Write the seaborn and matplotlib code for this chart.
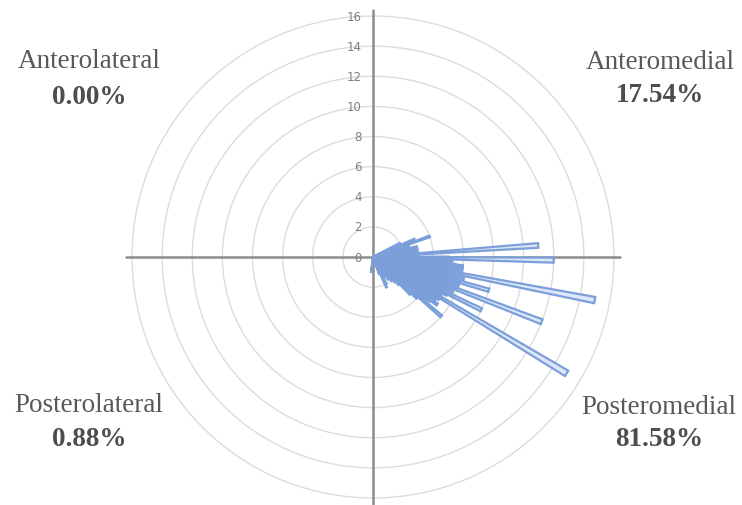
import numpy as np
import pandas as pd
import matplotlib
matplotlib.use("Agg")
import matplotlib.pyplot as plt
import seaborn as sns

# Data: one bar per case; direction (degrees, counter-clockwise from the medial/right axis) and magnitude
# Anteromedial cases (20)
am_angles = [4, 20, 23, 1, 2, 3, 5, 6, 7, 8, 9, 10, 11, 12, 13, 15, 17, 18, 24, 27]
am_values = [11, 4, 3, 3, 2.5, 3, 2.5, 3, 2, 2.5, 3, 2, 2.5, 2, 3, 2, 2.5, 2, 1.5, 2]
# Posteromedial cases (93)
pm_angles = [-1, -6, -11, -16, -21, -26, -31, -41,
             -0.5, -1.5, -2, -2.5, -3, -3.5, -4, -4.5, -5,
             -5.5, -6.5, -7, -7.5, -8, -8.5, -9, -9.5, -10,
             -10.5, -11.5, -12, -12.5, -13, -13.5, -14, -14.5, -15,
             -15.5, -16.5, -17, -17.5, -18, -18.5, -19, -19.5, -20,
             -20.5, -21.5, -22, -22.5, -23, -23.5, -24, -24.5, -25,
             -25.5, -26.5, -27, -27.5, -28, -28.5, -29, -29.5, -30,
             -30.5, -31.5, -32, -32.5, -33, -33.5, -34, -34.5, -35,
             -35.5, -36, -36.5, -37, -37.5, -38, -38.5, -39, -40,
             -42, -43, -44, -45, -47, -49, -52,
             -56, -60, -64, -66, -70, -0.8]
pm_values = [12, 6, 15, 8, 12, 8, 15, 6,
             5, 4.5, 5.3, 4, 5, 4.5, 5.2, 3.5, 4.8,
             5.5, 4, 5.8, 4.5, 6, 5, 5.5, 4, 5.8,
             4.5, 5, 6, 4.5, 5.5, 5, 6.2, 4, 5.5,
             6, 5, 5.8, 4.5, 6, 5, 5.5, 4, 5.8,
             5, 4.5, 5.5, 4, 5.8, 4.5, 5.2, 3.5, 5,
             4.8, 4, 5.5, 4.2, 5, 3.8, 5.2, 4, 4.8,
             4.5, 5, 4.2, 5.2, 4, 4.8, 3.8, 5, 4.5,
             5, 4.2, 5.3, 4, 4.8, 3.5, 4.5, 3.8, 4.2,
             3.5, 4, 3, 3.5, 2.5, 2.2, 2,
             1.8, 1.5, 2, 2.2, 1.2, 4.8]
# Posterolateral cases (1)
pl_angles = [-97]
pl_values = [1.0]

r_ticks = [0, 2, 4, 6, 8, 10, 12, 14, 16]
quad_names = ["Anterolateral", "Anteromedial", "Posterolateral", "Posteromedial"]
quad_pcts = ["0.00%", "17.54%", "0.88%", "81.58%"]

W, H = 742, 506
df = pd.DataFrame({
    "theta": np.deg2rad(am_angles + pm_angles + pl_angles),
    "value": am_values + pm_values + pl_values,
})

sns.set_style("white")
g = sns.FacetGrid(df, subplot_kws=dict(projection="polar"), height=H / 100,
                  aspect=W / H, despine=False)
g.map(plt.bar, "theta", "value", width=np.deg2rad(1.6), align="center",
      color="#dde7f7", edgecolor="#7b9fda", linewidth=1.6, zorder=3)
fig = g.figure
fig.set_size_inches(W / 100, H / 100)
ax = g.ax

cx, cy, R = 373, 258, 250
rmax = 16.6
ax.set_position([(cx - R) / W, (H - cy - R) / H, 2 * R / W, 2 * R / H])
ax.set_ylim(0, rmax)
ax.set_theta_zero_location("E")
ax.set_xticks([])
ax.set_yticks(r_ticks[1:])
ax.set_yticklabels([])
ax.set_xlabel("")
ax.set_ylabel("")
ax.set_title("")
ax.yaxis.grid(True, color="#dcdcdc", linewidth=1.0)
ax.xaxis.grid(False)
ax.spines["polar"].set_visible(False)
ax.set_facecolor("none")

# axis cross lines
for th in [0, np.pi / 2, np.pi, 3 * np.pi / 2]:
    ax.plot([th, th], [0, 16.4], color="#8c8c8c", linewidth=1.8, zorder=2)

# radial tick labels
for v in r_ticks:
    ax.annotate(str(v), xy=(np.pi / 2, v), xytext=(-8, 0), textcoords="offset points",
                ha="right", va="center", fontsize=8.5, color="#7f7f7f", zorder=4)

# quadrant labels
pos = [(89, 62, 97), (660, 63, 96), (89, 406, 440), (659, 408, 440)]
for (x, y1, y2), name, pct in zip(pos, quad_names, quad_pcts):
    fig.text(x / W, 1 - y1 / H, name, ha="center", va="center", fontsize=19.5,
             family="Liberation Serif", color="#595959")
    fig.text(x / W, 1 - y2 / H, pct, ha="center", va="center", fontsize=19.5,
             family="Liberation Serif", fontweight="bold", color="#4d4d4d")

fig.savefig("out.png", dpi=100, facecolor="white")
